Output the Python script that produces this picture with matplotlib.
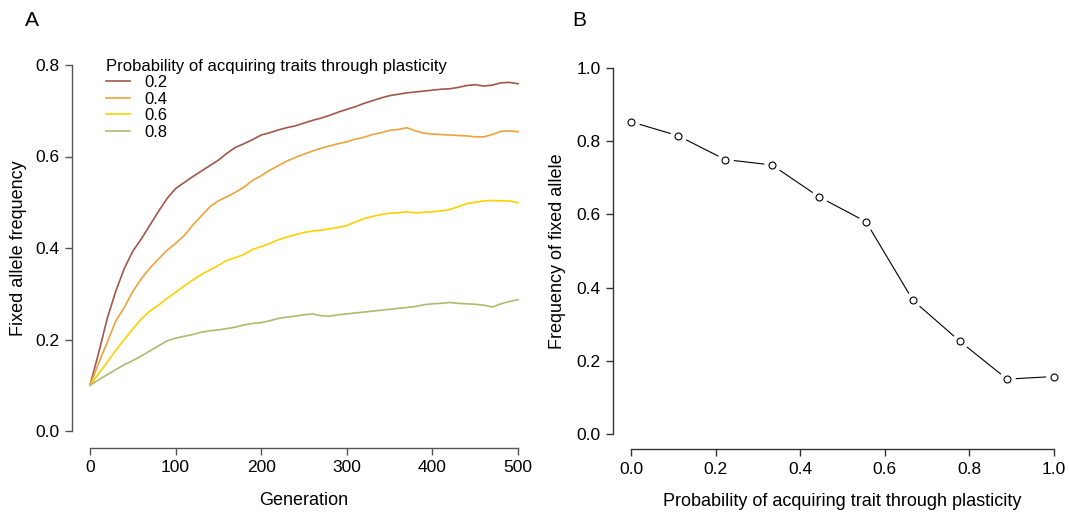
import numpy as np
import matplotlib
matplotlib.use("Agg")
import matplotlib.pyplot as plt

plt.rcParams['font.family'] = ['Liberation Sans', 'DejaVu Sans']

# panel A: mean fixed allele frequency, read every 10 generations
generation = list(range(0, 501, 10))
freq_02 = [0.100, 0.170, 0.245, 0.305, 0.355, 0.393, 0.420, 0.450, 0.480, 0.508,
           0.530, 0.543, 0.556, 0.568, 0.580, 0.592, 0.607, 0.620, 0.628, 0.637,
           0.647, 0.652, 0.658, 0.663, 0.667, 0.673, 0.679, 0.684, 0.690, 0.697,
           0.703, 0.709, 0.716, 0.722, 0.728, 0.733, 0.736, 0.739, 0.741, 0.743,
           0.745, 0.747, 0.748, 0.751, 0.755, 0.757, 0.754, 0.756, 0.761, 0.762,
           0.759]
freq_04 = [0.100, 0.148, 0.193, 0.240, 0.270, 0.305, 0.333, 0.356, 0.376, 0.395,
           0.410, 0.427, 0.450, 0.470, 0.490, 0.503, 0.512, 0.522, 0.533, 0.548,
           0.558, 0.570, 0.580, 0.590, 0.598, 0.605, 0.612, 0.618, 0.623, 0.628,
           0.632, 0.638, 0.642, 0.648, 0.652, 0.657, 0.659, 0.663, 0.656, 0.651,
           0.649, 0.648, 0.647, 0.646, 0.645, 0.643, 0.643, 0.648, 0.655, 0.656,
           0.654]
freq_06 = [0.100, 0.125, 0.150, 0.176, 0.200, 0.223, 0.245, 0.262, 0.275, 0.290,
           0.303, 0.317, 0.330, 0.342, 0.352, 0.362, 0.373, 0.379, 0.386, 0.397,
           0.403, 0.410, 0.418, 0.424, 0.429, 0.434, 0.437, 0.439, 0.442, 0.445,
           0.449, 0.457, 0.464, 0.469, 0.473, 0.476, 0.477, 0.479, 0.477, 0.478,
           0.479, 0.481, 0.484, 0.490, 0.497, 0.500, 0.503, 0.504, 0.503, 0.503,
           0.499]
freq_08 = [0.100, 0.112, 0.123, 0.134, 0.145, 0.154, 0.164, 0.175, 0.186, 0.197,
           0.203, 0.207, 0.211, 0.216, 0.219, 0.221, 0.224, 0.227, 0.232, 0.235,
           0.237, 0.241, 0.246, 0.249, 0.251, 0.254, 0.256, 0.252, 0.251, 0.254,
           0.256, 0.258, 0.260, 0.262, 0.264, 0.266, 0.268, 0.270, 0.272, 0.276,
           0.278, 0.279, 0.281, 0.279, 0.278, 0.277, 0.275, 0.271, 0.278, 0.283,
           0.287]
labels_a = ["0.2", "0.4", "0.6", "0.8"]
colors_a = ["#a0584a", "#eba33c", "#ffd000", "#a9bd6f"]

# panel B
prob_b = [0, 1/9, 2/9, 3/9, 4/9, 5/9, 6/9, 7/9, 8/9, 1]
freq_b = [0.853, 0.815, 0.750, 0.735, 0.648, 0.580, 0.365, 0.253, 0.150, 0.157]

W, H = 1069, 513
fig = plt.figure(figsize=(W/100, H/100), dpi=100)

def r_axes(ax, col, xoff, yoff):
    for s in ["top", "right"]:
        ax.spines[s].set_visible(False)
    ax.spines["left"].set_position(("outward", yoff))
    ax.spines["bottom"].set_position(("outward", xoff))
    for s in ["left", "bottom"]:
        ax.spines[s].set_color(col)
        ax.spines[s].set_linewidth(1.0)
    ax.tick_params(colors=col, labelcolor="black", length=5, width=1.0,
                   labelsize=12.5, pad=4)

# ---- A ----
axA = fig.add_axes([90/W, (H-431)/H, 428/W, 366/H])
for y, lab, c in zip([freq_02, freq_04, freq_06, freq_08], labels_a, colors_a):
    axA.plot(generation, y, color=c, lw=1.2, label=lab, clip_on=False)
axA.set_xlim(0, 500)
axA.set_ylim(0, 0.8)
axA.set_xticks([0, 100, 200, 300, 400, 500])
axA.set_yticks([0.0, 0.2, 0.4, 0.6, 0.8])
axA.set_yticklabels(["0.0", "0.2", "0.4", "0.6", "0.8"])
r_axes(axA, "#555555", 12, 13)
axA.spines["left"].set_bounds(0, 0.8)
axA.spines["bottom"].set_bounds(0, 500)
axA.set_xlabel("Generation", fontsize=13, labelpad=12)
axA.set_ylabel("Fixed allele frequency", fontsize=13, labelpad=6)
leg = axA.legend(title="Probability of acquiring traits through plasticity",
                 loc="upper left", bbox_to_anchor=(0.018, 1.04), frameon=False,
                 fontsize=12, title_fontsize=12, handlelength=1.45,
                 labelspacing=0.09, handletextpad=0.85, borderpad=0)
leg._legend_box.align = "left"
fig.text(25/W, 1-20/H, "A", fontsize=15, va="center", ha="left")

# ---- B ----
axB = fig.add_axes([631/W, (H-434)/H, 423/W, 366/H])
axB.plot(prob_b, freq_b, color="black", lw=0.8, zorder=1, clip_on=False)
axB.plot(prob_b, freq_b, ls="none", marker="o", ms=11, mfc="white", mec="white",
         zorder=2, clip_on=False)
axB.plot(prob_b, freq_b, ls="none", marker="o", ms=5, mfc="white", mec="black",
         mew=0.8, zorder=3, clip_on=False)
axB.set_xlim(0, 1)
axB.set_ylim(0, 1)
axB.set_xticks([0, 0.2, 0.4, 0.6, 0.8, 1.0])
axB.set_xticklabels(["0.0", "0.2", "0.4", "0.6", "0.8", "1.0"])
axB.set_yticks([0, 0.2, 0.4, 0.6, 0.8, 1.0])
axB.set_yticklabels(["0.0", "0.2", "0.4", "0.6", "0.8", "1.0"])
r_axes(axB, "#333333", 11, 13)
axB.set_xlabel("Probability of acquiring trait through plasticity", fontsize=13, labelpad=12)
axB.set_ylabel("Frequency of fixed allele", fontsize=13, labelpad=7)
fig.text(572/W, 1-20/H, "B", fontsize=15, va="center", ha="left")

fig.savefig("out.png", dpi=100)
